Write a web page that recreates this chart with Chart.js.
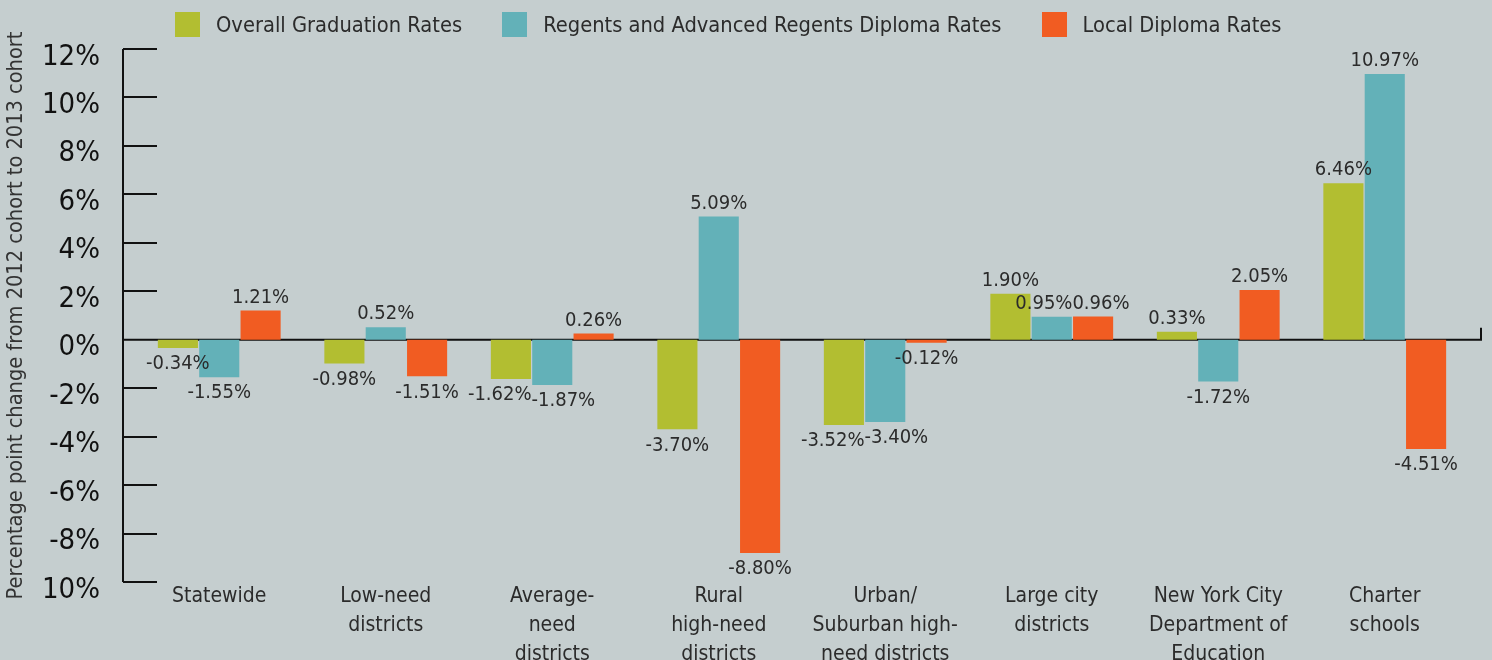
<!DOCTYPE html>
<html>

<head>
    <meta charset="utf-8">
    <script src="https://cdn.jsdelivr.net/npm/chart.js@4.4.0/dist/chart.umd.min.js"></script>
    <style>
        html, body { margin: 0; padding: 0; background: #c5cecf; overflow: hidden; }
        #wrap { position: relative; width: 1492px; height: 660px; }
        #legend {
            position: absolute; left: 175px; top: 12px; display: flex;
            font-family: "DejaVu Sans Condensed", "DejaVu Sans", sans-serif;
            font-size: 21.7px; color: #2b2b2b; white-space: nowrap;
        }
        .item { display: flex; align-items: center; margin-right: 40px; height: 25px; }
        .box { width: 25px; height: 25px; margin-right: 16px; }
    </style>
</head>

<body>
    <div id="wrap">
        <canvas id="plot" width="1492" height="660"></canvas>
        <div id="legend"></div>
    </div>
    <script>
        var FONT = '"DejaVu Sans Condensed", "DejaVu Sans", sans-serif'

        var categories = [
            'Statewide',
            ['Low-need', 'districts'],
            ['Average-', 'need', 'districts'],
            ['Rural', 'high-need', 'districts'],
            ['Urban/', 'Suburban high-', 'need districts'],
            ['Large city', 'districts'],
            ['New York City', 'Department of', 'Education'],
            ['Charter', 'schools']
        ]
        var seriesNames = ['Overall Graduation Rates', 'Regents and Advanced Regents Diploma Rates', 'Local Diploma Rates']
        var seriesColors = ['#b2be31', '#63b1b8', '#f15c22']
        var overallRates = [-0.34, -0.98, -1.62, -3.70, -3.52, 1.90, 0.33, 6.46]
        var regentsRates = [-1.55, 0.52, -1.87, 5.09, -3.40, 0.95, -1.72, 10.97]
        var localRates = [1.21, -1.51, 0.26, -8.80, -0.12, 0.96, 2.05, -4.51]
        var yTicks = { min: -10, max: 12, step: 2 }
        var yTitle = 'Percentage point change from 2012 cohort to 2013 cohort'

        // legend as html
        var legend = document.getElementById('legend')
        seriesNames.forEach(function (name, i) {
            var item = document.createElement('div')
            item.className = 'item'
            item.innerHTML = '<div class="box" style="background:' + seriesColors[i] + '"></div><span>' + name + '</span>'
            legend.appendChild(item)
        })

        // y axis line, ticks and the zero line
        var axisLines = {
            id: 'axisLines',
            beforeDatasetsDraw: function (chart) {
                var ctx = chart.ctx
                var y = chart.scales.y
                var area = chart.chartArea
                var ax = area.left - 13
                var y0 = y.getPixelForValue(0)
                ctx.save()
                ctx.strokeStyle = '#111'
                ctx.lineWidth = 2
                ctx.beginPath()
                ctx.moveTo(ax, y.getPixelForValue(yTicks.max))
                ctx.lineTo(ax, y.getPixelForValue(yTicks.min))
                y.ticks.forEach(function (t) {
                    if (t.value === 0) return
                    var py = Math.round(y.getPixelForValue(t.value))
                    ctx.moveTo(ax, py)
                    ctx.lineTo(ax + 34, py)
                })
                ctx.moveTo(ax, y0)
                ctx.lineTo(area.right + 13, y0)
                ctx.lineTo(area.right + 13, y0 - 12)
                ctx.stroke()
                ctx.restore()
            }
        }

        // value labels, pushed apart a little when two of a group collide
        var valueLabels = {
            id: 'valueLabels',
            afterDatasetsDraw: function (chart) {
                var ctx = chart.ctx
                ctx.save()
                ctx.font = '20px ' + FONT
                ctx.fillStyle = '#2b2b2b'
                ctx.textAlign = 'center'
                ctx.textBaseline = 'middle'
                var n = chart.data.labels.length
                for (var j = 0; j < n; j++) {
                    var items = chart.data.datasets.map(function (ds, i) {
                        var bar = chart.getDatasetMeta(i).data[j]
                        var v = ds.data[j]
                        var text = v.toFixed(2) + '%'
                        return { text: text, x: bar.x, y: v >= 0 ? bar.y - 13 : bar.y + 16, w: ctx.measureText(text).width }
                    })
                    for (var k = 0; k < items.length - 1; k++) {
                        var a = items[k], b = items[k + 1]
                        if (Math.abs(a.y - b.y) > 22) continue
                        var over = (a.x + a.w / 2) - (b.x - b.w / 2)
                        if (over > 0) {
                            a.x -= over / 2
                            b.x += over / 2
                        }
                    }
                    items.forEach(function (it) { ctx.fillText(it.text, it.x, it.y) })
                }
                ctx.restore()
            }
        }

        var allSeries = [overallRates, regentsRates, localRates]
        var datasets = allSeries.map(function (d, i) {
            return {
                label: seriesNames[i],
                data: d,
                backgroundColor: seriesColors[i],
                borderWidth: 0,
                categoryPercentage: 0.745,
                barPercentage: 0.97
            }
        })

        new Chart(document.getElementById('plot'), {
            type: 'bar',
            data: { labels: categories, datasets: datasets },
            plugins: [axisLines, valueLabels],
            options: {
                responsive: false,
                animation: false,
                devicePixelRatio: 1,
                layout: { padding: { top: 49, right: 24, left: 0, bottom: 0 } },
                plugins: { legend: { display: false }, tooltip: { enabled: false } },
                scales: {
                    x: {
                        grid: { display: false, drawTicks: false },
                        border: { display: false },
                        ticks: {
                            color: '#2b2b2b', padding: 0, maxRotation: 0, autoSkip: false,
                            font: { family: FONT, size: 21, lineHeight: 1.38 }
                        },
                        afterFit: function (s) { s.height = 78 }
                    },
                    y: {
                        min: yTicks.min,
                        max: yTicks.max,
                        grid: { display: false, drawTicks: false },
                        border: { display: false },
                        ticks: {
                            stepSize: yTicks.step, color: '#111', padding: 36, labelOffset: 8,
                            font: { family: FONT, size: 29 },
                            callback: function (v) { return (v === yTicks.min ? -v : v) + '%' }
                        },
                        title: {
                            display: true, text: yTitle, color: '#333',
                            font: { family: FONT, size: 21.6 }, padding: { top: 3, bottom: 0 }
                        },
                        afterFit: function (s) {
                            s.width = 136
                            s.paddingTop = 0
                            s.paddingBottom = 0
                        }
                    }
                }
            }
        })
    </script>
</body>

</html>
